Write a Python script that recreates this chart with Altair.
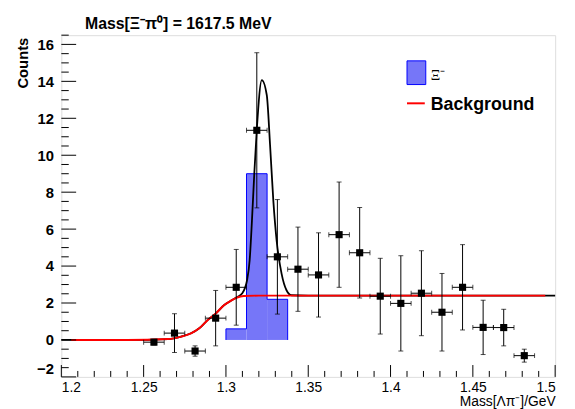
import altair as alt
import pandas as pd

# ---- data ----
bin_center = [1.25625, 1.26875, 1.28125, 1.29375, 1.30625, 1.31875, 1.33125,
              1.34375, 1.35625, 1.36875, 1.38125, 1.39375, 1.40625, 1.41875,
              1.43125, 1.44375, 1.45625, 1.46875, 1.48125]
counts = [-0.12, 0.37, -0.6, 1.18, 2.85, 11.35, 4.5, 3.83, 3.52, 5.7, 4.72,
          2.37, 1.98, 2.53, 1.5, 2.85, 0.68, 0.67, -0.85]
count_err = [0.15, 1.05, 0.28, 1.5, 2.05, 4.2, 3.1, 2.28, 2.28, 2.85, 2.45,
             2.05, 2.58, 2.3, 2.1, 2.31, 1.47, 0.99, 0.35]
half_width = 0.00625

sig_lo = [1.3, 1.3125, 1.325]
sig_hi = [1.3125, 1.325, 1.3375]
sig_val = [0.6, 9.0, 2.2]

bg_x = [1.206, 1.24, 1.2648, 1.2728, 1.2788, 1.2838, 1.2888, 1.2938, 1.2988,
        1.3028, 1.3068, 1.3108, 1.32, 1.494]
bg_y = [0.0, 0.0, 0.05, 0.18, 0.36, 0.63, 1.07, 1.43, 1.88, 2.11, 2.30, 2.38,
        2.4, 2.4]

tot_x = [1.2, 1.24, 1.2648, 1.2728, 1.2788, 1.2838, 1.2888, 1.2938, 1.2988,
         1.3028, 1.3068, 1.3098, 1.3128, 1.3144, 1.3158, 1.3172, 1.3188,
         1.3218, 1.3248, 1.3268, 1.3288, 1.3308, 1.3338, 1.3368, 1.3398,
         1.35, 1.5]
tot_y = [0.0, 0.0, 0.05, 0.18, 0.36, 0.63, 1.07, 1.43, 1.88, 2.11, 2.32,
         2.51, 3.22, 4.3, 6.45, 8.96, 11.47, 14.07, 13.26, 10.57, 7.53, 5.38,
         3.59, 2.69, 2.42, 2.4, 2.4]

x_major = [1.2, 1.25, 1.3, 1.35, 1.4, 1.45, 1.5]
x_minor = [1.21, 1.22, 1.23, 1.24, 1.26, 1.27, 1.28, 1.29, 1.31, 1.32, 1.33,
           1.34, 1.36, 1.37, 1.38, 1.39, 1.41, 1.42, 1.43, 1.44, 1.46, 1.47,
           1.48, 1.49]
y_major = [-2, 0, 2, 4, 6, 8, 10, 12, 14, 16]
y_minor = [-1.5, -1, -0.5, 0.5, 1, 1.5, 2.5, 3, 3.5, 4.5, 5, 5.5, 6.5, 7, 7.5,
           8.5, 9, 9.5, 10.5, 11, 11.5, 12.5, 13, 13.5, 14.5, 15, 15.5, 16.5]

title_text = "Mass[Ξ⁻π⁰] = 1617.5 MeV"
W, H = 500, 346
FONT = "Liberation Sans"
HIST_FILL = "#7676f8"

pts = pd.DataFrame({
    "x": bin_center, "y": counts,
    "lo": [c - e for c, e in zip(counts, count_err)],
    "hi": [c + e for c, e in zip(counts, count_err)],
    "xlo": [c - half_width for c in bin_center],
    "xhi": [c + half_width for c in bin_center],
})
hist = pd.DataFrame({"xlo": sig_lo, "xhi": sig_hi, "y": sig_val,
                     "zero": [0.0] * len(sig_val)})
outline_x, outline_y = [], []
for lo, hi, v in zip(sig_lo, sig_hi, sig_val):
    if not outline_x:
        outline_x += [lo]
        outline_y += [0.0]
    outline_x += [lo, hi]
    outline_y += [v, v]
outline_x.append(sig_hi[-1])
outline_y.append(0.0)
outline = pd.DataFrame({"x": outline_x, "y": outline_y,
                        "i": list(range(len(outline_x)))})
bg = pd.DataFrame({"x": bg_x, "y": bg_y})
tot = pd.DataFrame({"x": tot_x, "y": tot_y})

xs = alt.Scale(domain=[1.2, 1.5], nice=False, zero=False)
ys = alt.Scale(domain=[-2, 16.5], nice=False, zero=False)
xaxis = alt.Axis(values=x_major, format="~g", ticks=False, domain=False,
                 grid=False, labelFont=FONT, labelFontSize=14, labelPadding=4,
                 labelColor="black", titleFont=FONT, titleFontSize=14,
                 titleFontWeight="normal", titleColor="black",
                 titleAnchor="end", titleAlign="right", titleX=W, titleY=29,
                 titleBaseline="alphabetic")
yaxis = alt.Axis(values=y_major, format="d", ticks=False, domain=False,
                 grid=False, labelFont=FONT, labelFontSize=15,
                 labelFontWeight="bold", labelPadding=8, labelColor="black",
                 labelFlush=True,
                 titleFont=FONT, titleFontSize=15, titleFontWeight="bold",
                 titleColor="black", titleAngle=-90, titleAlign="right",
                 titleBaseline="alphabetic", titleX=-34, titleY=2)
XT = "Mass[Λπ⁻]/GeV"
YT = "Counts"


def X(f="x"):
    return alt.X(f + ":Q", scale=xs, axis=xaxis, title=XT)


def Y(f="y"):
    return alt.Y(f + ":Q", scale=ys, axis=yaxis, title=YT)


hist_fill = alt.Chart(hist).mark_rect(color=HIST_FILL, opacity=1).encode(
    x=X("xlo"), x2="xhi", y=Y("zero"), y2="y")
hist_line = alt.Chart(outline).mark_line(color="#0000ff", strokeWidth=1).encode(
    x=X(), y=Y(), order="i:Q")
tot_line = alt.Chart(tot).mark_line(color="black", strokeWidth=1.8,
                                    interpolate="monotone").encode(x=X(), y=Y())
bg_line = alt.Chart(bg).mark_line(color="#ff0000", strokeWidth=2,
                                  interpolate="monotone").encode(x=X(), y=Y())
vbar = alt.Chart(pts).mark_rule(color="black", strokeWidth=1).encode(
    x=X(), y=Y("lo"), y2="hi")
hbar = alt.Chart(pts).mark_rule(color="black", strokeWidth=1).encode(
    x=X("xlo"), x2="xhi", y=Y())
cap_top = alt.Chart(pts).mark_tick(color="black", orient="horizontal",
                                   size=5, thickness=1).encode(x=X(), y=Y("hi"))
cap_bot = alt.Chart(pts).mark_tick(color="black", orient="horizontal",
                                   size=5, thickness=1).encode(x=X(), y=Y("lo"))
cap_l = alt.Chart(pts).mark_tick(color="black", orient="vertical",
                                 size=5, thickness=1).encode(x=X("xlo"), y=Y())
cap_r = alt.Chart(pts).mark_tick(color="black", orient="vertical",
                                 size=5, thickness=1).encode(x=X("xhi"), y=Y())
markers = alt.Chart(pts).mark_point(shape="square", filled=True, size=52,
                                    color="black", opacity=1).encode(
    x=X(), y=Y())

xmaj = alt.Chart(pd.DataFrame({"x": x_major})).mark_rule(
    color="black", strokeWidth=1).encode(x=X(), y=alt.value(H),
                                         y2=alt.value(H - 12))
xmin = alt.Chart(pd.DataFrame({"x": x_minor})).mark_rule(
    color="black", strokeWidth=1).encode(x=X(), y=alt.value(H),
                                         y2=alt.value(H - 6))
ymaj = alt.Chart(pd.DataFrame({"y": y_major})).mark_rule(
    color="black", strokeWidth=1).encode(y=Y(), x=alt.value(0),
                                         x2=alt.value(15))
ymin = alt.Chart(pd.DataFrame({"y": y_minor})).mark_rule(
    color="black", strokeWidth=1).encode(y=Y(), x=alt.value(0),
                                         x2=alt.value(7.5))

one = pd.DataFrame({"a": [0]})
title_mark = alt.Chart(one).mark_text(font=FONT, fontSize=16,
                                      fontWeight="bold", align="left",
                                      baseline="alphabetic",
                                      color="black").encode(
    x=alt.value(24), y=alt.value(-6), text=alt.value(title_text))
leg_box = alt.Chart(one).mark_rect(color=HIST_FILL, stroke="#0000ff",
                                   strokeWidth=1).encode(
    x=alt.value(350), x2=alt.value(369), y=alt.value(26), y2=alt.value(50))
leg_sig = alt.Chart(one).mark_text(font="Liberation Serif", fontSize=15,
                                   align="left", baseline="alphabetic",
                                   color="black").encode(
    x=alt.value(374), y=alt.value(45), text=alt.value("Ξ⁻"))
leg_line = alt.Chart(one).mark_rule(color="#ff0000", strokeWidth=2).encode(
    x=alt.value(350), x2=alt.value(368), y=alt.value(69))
leg_bg = alt.Chart(one).mark_text(font=FONT, fontSize=18, fontWeight="bold",
                                  align="left", baseline="alphabetic",
                                  color="black").encode(
    x=alt.value(374), y=alt.value(76), text=alt.value("Background"))

chart = alt.layer(
    hist_fill, hist_line, tot_line, bg_line, vbar, hbar, cap_top, cap_bot,
    cap_l, cap_r, markers, xmaj, xmin, ymaj, ymin,
    title_mark, leg_box, leg_sig, leg_line, leg_bg,
).properties(
    width=W, height=H,
    autosize="none",
    padding={"left": 54, "top": 25, "right": 12, "bottom": 30},
).configure_view(stroke="black", strokeWidth=1).configure(background="white")

chart.save("out.html", embed_options={"renderer": "svg", "actions": False})
